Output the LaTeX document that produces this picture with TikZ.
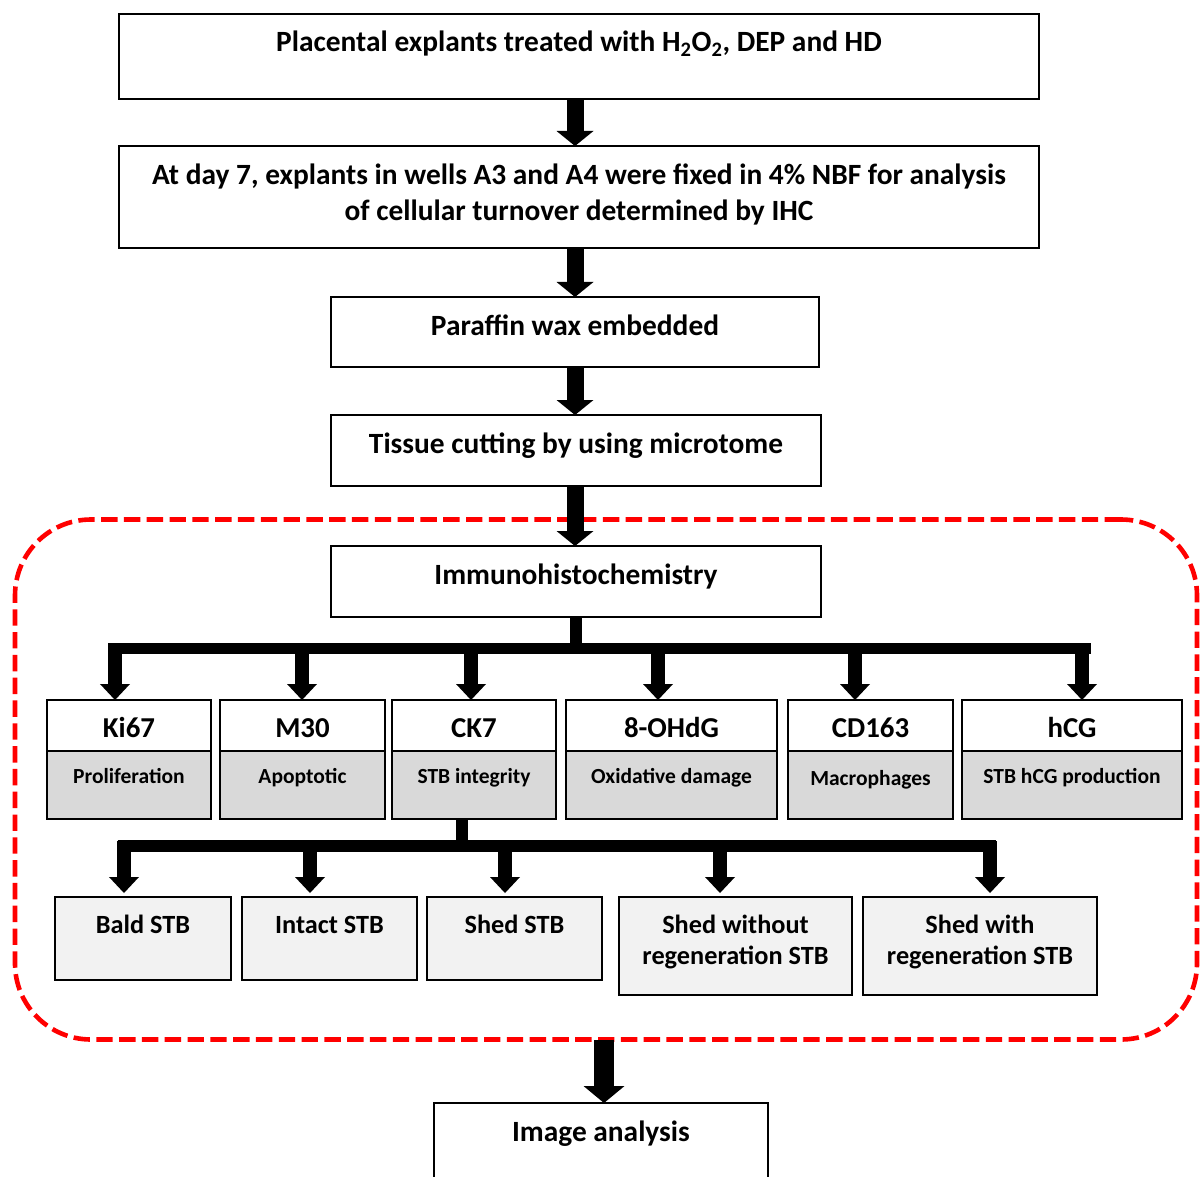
\documentclass[tikz,border=0pt]{standalone}
\usepackage{fontspec}
\setmainfont{Carlito}
\usetikzlibrary{arrows.meta}

\definecolor{cellgray}{HTML}{D9D9D9}
\definecolor{cellpale}{HTML}{F2F2F2}
\definecolor{groupred}{HTML}{FF0000}

% rectangle node given by its corner coordinates: name, x1, y1, x2, y2, style
\newcommand\flowbox[6]{%
  \node[#6, minimum width={(#4-#2)*0.025cm}, minimum height={(#5-#3)*0.025cm}]
    (#1) at ({(#2+#4)/2},{(#3+#5)/2}) {};}

\begin{document}
\begin{tikzpicture}[x=0.025cm, y=-0.025cm,
  box/.style={draw=black, line width=0.06cm, fill=white, inner sep=0pt, outer sep=0pt},
  graybox/.style={box, fill=cellgray},
  palebox/.style={box, fill=cellpale},
  group/.style={draw=groupred, line width=0.115cm, dash pattern=on 0.41cm off 0.16cm,
    rounded corners=1.9cm, inner sep=0pt, outer sep=0pt},
  maintext/.style={font=\fontsize{20.9pt}{25.5pt}\selectfont\bfseries, align=center, inner sep=0pt, anchor=base},
  marktext/.style={font=\fontsize{20.5pt}{25.5pt}\selectfont\bfseries, inner sep=0pt, anchor=base},
  subtext/.style={font=\fontsize{15.3pt}{18pt}\selectfont\bfseries, inner sep=0pt, anchor=base},
  leaftext/.style={font=\fontsize{18.7pt}{22pt}\selectfont\bfseries, align=center, inner sep=0pt, anchor=base},
  arr/.style={line width=0.425cm, -{Triangle[width=0.925cm, length=0.375cm, line width=0pt]}},
  arrbig/.style={line width=0.5cm, -{Triangle[width=1.025cm, length=0.425cm, line width=0pt]}},
  arrfan/.style={line width=0.34cm, -{Triangle[width=0.75cm, length=0.4cm, line width=0pt]}},
  bar/.style={line width=0.29cm},
]
\useasboundingbox (0,0) rectangle (1202,1176);

% dashed group around the staining stage
\flowbox{ihcgroup}{15}{519.5}{1197}{1039.5}{group}

% main chain
\flowbox{b1}{119}{14}{1039}{99}{box}
\flowbox{b2}{119}{146}{1039}{248}{box}
\flowbox{b3}{331}{297}{819}{367}{box}
\flowbox{b4}{331}{415}{821}{486}{box}
\flowbox{ihc}{331}{546}{821}{617}{box}
\flowbox{img}{434}{1103}{768}{1210}{box}

% markers: name cell on top, role cell below
\flowbox{ki}{47}{700}{211}{751}{box}
\flowbox{kis}{47}{751}{211}{819}{graybox}
\flowbox{m30}{220}{700}{385}{751}{box}
\flowbox{m30s}{220}{751}{385}{819}{graybox}
\flowbox{ck}{392}{700}{556}{751}{box}
\flowbox{cks}{392}{751}{556}{819}{graybox}
\flowbox{ohdg}{566}{700}{777}{751}{box}
\flowbox{ohdgs}{566}{751}{777}{819}{graybox}
\flowbox{cd}{788}{700}{953}{751}{box}
\flowbox{cds}{788}{751}{953}{819}{graybox}
\flowbox{hcg}{962}{700}{1182}{751}{box}
\flowbox{hcgs}{962}{751}{1182}{819}{graybox}

% STB categories
\flowbox{bald}{55}{897}{231}{980}{palebox}
\flowbox{intact}{242}{897}{417}{980}{palebox}
\flowbox{shed}{427}{897}{602}{980}{palebox}
\flowbox{shedno}{619}{897}{852}{995}{palebox}
\flowbox{shedre}{863}{897}{1097}{995}{palebox}

% connectors of the main chain
\coordinate (axis) at (575,0);
\draw[arr] (b1.south -| axis) -- (b2.north -| axis);
\draw[arr] (b2.south -| axis) -- (b3.north -| axis);
\draw[arr] (b3.south -| axis) -- (b4.north -| axis);
\draw[arr] (b4.south -| axis) -- (ihc.north -| axis);
\coordinate (gout) at (604,1039.5);
\draw[arrbig] (gout) -- (gout |- img.north);

% fan out to the markers
\coordinate (fa) at (576,648.5);
\draw[line width=0.28cm] (ihc.south -| fa) -- (fa);
\draw[bar] (108,648.5) -- (1091,648.5);
\foreach \x/\t in {115/ki, 302/m30, 471/ck, 658/ohdg, 855/cd, 1082/hcg}{
  \coordinate (d\t) at (\x,643);
  \draw[arrfan] (d\t) -- (d\t |- \t.north);
}

% fan out from CK7 to the STB categories
\coordinate (fb) at (462,846);
\draw[line width=0.28cm] (cks.south -| fb) -- (fb);
\draw[bar] (117.5,846) -- (996,846);
\foreach \x/\t in {124/bald, 310/intact, 505/shed, 720/shedno, 990/shedre}{
  \coordinate (e\t) at (\x,841);
  \draw[arrfan, shorten >=0.1cm] (e\t) -- (e\t |- \t.north);
}

% texts (multi-line nodes sit on the baseline of their last line)
\node[maintext] (t1) at (579,52) {Placental explants treated with H\textsubscript{2}O\textsubscript{2}, DEP and HD};
\node[maintext] (t2) at (579,220.5) {At day 7, explants in wells A3 and A4 were fixed in 4\% NBF for analysis\\of cellular turnover determined by IHC};
\node[maintext] (t3) at (575,335.5) {Paraffin wax embedded};
\node[maintext] (t4) at (576,453.5) {Tissue cutting by using microtome};
\node[maintext] (t5) at (576,584.5) {Immunohistochemistry};
\node[maintext] (t6) at (601,1141) {Image analysis};

\node[marktext] at (129,737) {Ki67};
\node[marktext] at (302.5,737) {M30};
\node[marktext] at (474,737) {CK7};
\node[marktext] at (671.5,737) {8-OHdG};
\node[marktext] at (870.5,737) {CD163};
\node[marktext] at (1072,737) {hCG};

\node[subtext] at (129,783) {Proliferation};
\node[subtext] at (302.5,783) {Apoptotic};
\node[subtext] at (474,783) {STB integrity};
\node[subtext] at (671.5,783) {Oxidative damage};
\node[subtext] at (870.5,785) {Macrophages};
\node[subtext] at (1072,783) {STB hCG production};

\node[leaftext] at (143,933) {Bald STB};
\node[leaftext] at (329.5,933) {Intact STB};
\node[leaftext] at (514.5,933) {Shed STB};
\node[leaftext] at (735.5,964) {Shed without\\regeneration STB};
\node[leaftext] at (980,964) {Shed with\\regeneration STB};
\end{tikzpicture}
\end{document}
